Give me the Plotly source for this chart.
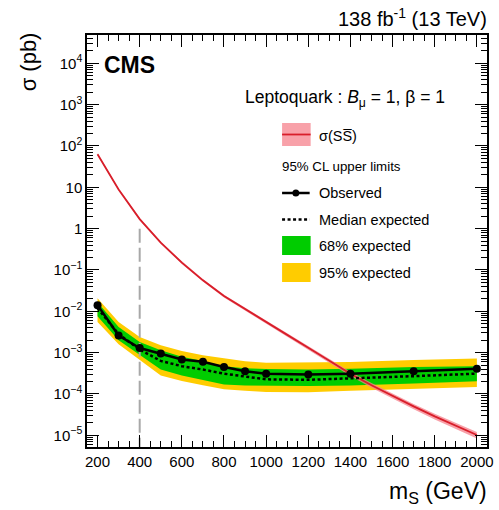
import plotly.graph_objects as go

# ---------------- data ----------------
mass_limits = [200, 300, 400, 500, 600, 700, 800, 900, 1000, 1200, 1400, 1700, 2000]
observed = [1.41e-2, 2.6e-3, 1.29e-3, 9.5e-4, 6.8e-4, 6.0e-4, 4.5e-4, 3.55e-4, 3.1e-4, 2.95e-4, 3.1e-4, 3.55e-4, 4.1e-4]
expected = [1.19e-2, 2.8e-3, 1.19e-3, 6.3e-4, 4.7e-4, 3.9e-4, 3.1e-4, 2.6e-4, 2.26e-4, 2.2e-4, 2.35e-4, 2.7e-4, 3.1e-4]
exp68_up = [1.66e-2, 4.2e-3, 1.8e-3, 1.15e-3, 8.0e-4, 6.3e-4, 4.7e-4, 4.2e-4, 4.0e-4, 3.9e-4, 4.1e-4, 4.5e-4, 4.7e-4]
exp68_dn = [7.6e-3, 2.0e-3, 8.7e-4, 3.9e-4, 2.8e-4, 2.15e-4, 1.7e-4, 1.6e-4, 1.55e-4, 1.55e-4, 1.6e-4, 1.8e-4, 2.04e-4]
exp95_up = [2.07e-2, 5.5e-3, 2.4e-3, 1.5e-3, 1.1e-3, 8.7e-4, 7.3e-4, 6.2e-4, 5.7e-4, 5.7e-4, 5.9e-4, 6.6e-4, 7.2e-4]
exp95_dn = [5.5e-3, 1.6e-3, 6.6e-4, 2.8e-4, 2.07e-4, 1.62e-4, 1.3e-4, 1.2e-4, 1.12e-4, 1.1e-4, 1.2e-4, 1.35e-4, 1.48e-4]

mass_xs = [200, 300, 400, 500, 600, 700, 800, 900, 1000, 1100, 1200, 1300, 1400, 1500, 1600, 1700, 1800, 1900, 2000]
xsec = [63.1, 8.9, 1.70, 0.457, 0.151, 0.0562, 0.0234, 0.0112, 5.5e-3, 2.69e-3, 1.32e-3, 6.3e-4, 3.09e-4,
        1.62e-4, 8.9e-5, 5.0e-5, 2.88e-5, 1.70e-5, 1.02e-5]
xsec_rel_unc = [0.05, 0.05, 0.06, 0.06, 0.07, 0.07, 0.08, 0.08, 0.09, 0.10, 0.10, 0.11, 0.12,
                0.13, 0.14, 0.15, 0.16, 0.17, 0.18]

marker_mass = 400
marker_y = [1, 10 ** -5.283]

x_range = [150, 2048]
y_range = [-5.283, 4.685]
x_ticks = list(range(200, 2001, 200))
y_tick_exps = list(range(-5, 5))
y_tick_text = {4: "10<sup>4</sup>", 3: "10<sup>3</sup>", 2: "10<sup>2</sup>", 1: "10", 0: "1",
               -1: "10<sup>\u22121</sup>", -2: "10<sup>\u22122</sup>", -3: "10<sup>\u22123</sup>",
               -4: "10<sup>\u22124</sup>", -5: "10<sup>\u22125</sup>"}

# ---------------- layout geometry (pixels) ----------------
W, H = 499, 510
L, R, T, B = 87, 6, 35, 63
PW, PH = W - L - R, H - T - B


def px(x):
    return (x - L) / PW


def py(y):
    return (H - B - y) / PH


FONT = "Liberation Sans, Arial, Helvetica, sans-serif"
GREEN = "#00cc00"
YELLOW = "#ffcc00"
RED = "#d81e2a"
PINK = "rgba(245,130,140,0.75)"

fig = go.Figure()

# 95% band
fig.add_trace(go.Scatter(x=mass_limits + mass_limits[::-1], y=exp95_up + exp95_dn[::-1],
                         fill="toself", fillcolor=YELLOW, line=dict(width=0), mode="lines",
                         hoverinfo="skip", showlegend=False))
# 68% band
fig.add_trace(go.Scatter(x=mass_limits + mass_limits[::-1], y=exp68_up + exp68_dn[::-1],
                         fill="toself", fillcolor=GREEN, line=dict(width=0), mode="lines",
                         hoverinfo="skip", showlegend=False))
# vertical dashed line
fig.add_trace(go.Scatter(x=[marker_mass, marker_mass], y=marker_y, mode="lines",
                         line=dict(color="#a8a8a8", width=2, dash="14px,5px"),
                         hoverinfo="skip", showlegend=False))
# cross-section band + line
xs_up = [v * (1 + u) for v, u in zip(xsec, xsec_rel_unc)]
xs_dn = [v * (1 - u) for v, u in zip(xsec, xsec_rel_unc)]
fig.add_trace(go.Scatter(x=mass_xs + mass_xs[::-1], y=xs_up + xs_dn[::-1], fill="toself",
                         fillcolor=PINK, line=dict(width=0), mode="lines",
                         hoverinfo="skip", showlegend=False))
fig.add_trace(go.Scatter(x=mass_xs, y=xsec, mode="lines", line=dict(color=RED, width=1.8),
                         showlegend=False))
# median expected
fig.add_trace(go.Scatter(x=mass_limits, y=expected, mode="lines",
                         line=dict(color="black", width=2.5, dash="3px,2.5px"), showlegend=False))
# observed
fig.add_trace(go.Scatter(x=mass_limits, y=observed, mode="lines+markers",
                         line=dict(color="black", width=2.5),
                         marker=dict(color="black", size=8), showlegend=False))

# ---------------- legend (manual) ----------------
shapes = []
annotations = []
lx0, lx1 = 285, 314
# sigma
shapes.append(dict(type="rect", xref="paper", yref="paper", x0=px(lx0), x1=px(lx1), y0=py(146), y1=py(123),
                   fillcolor=PINK, line=dict(width=0)))
shapes.append(dict(type="line", xref="paper", yref="paper", x0=px(lx0), x1=px(lx1), y0=py(134.5), y1=py(134.5),
                   line=dict(color=RED, width=1.8)))
# observed
shapes.append(dict(type="line", xref="paper", yref="paper", x0=px(lx0), x1=px(313), y0=py(193), y1=py(193),
                   line=dict(color="black", width=2.5)))
shapes.append(dict(type="circle", xref="paper", yref="paper", x0=px(295.5), x1=px(302.5), y0=py(196.5), y1=py(189.5),
                   fillcolor="black", line=dict(color="black", width=0)))
# median
shapes.append(dict(type="line", xref="paper", yref="paper", x0=px(lx0), x1=px(313), y0=py(219.5), y1=py(219.5),
                   line=dict(color="black", width=2.5, dash="3px,2.5px")))
# 68
shapes.append(dict(type="rect", xref="paper", yref="paper", x0=px(lx0), x1=px(lx1), y0=py(255), y1=py(236),
                   fillcolor=GREEN, line=dict(width=0)))
# 95
shapes.append(dict(type="rect", xref="paper", yref="paper", x0=px(lx0), x1=px(lx1), y0=py(282), y1=py(263),
                   fillcolor=YELLOW, line=dict(width=0)))


def text(x, y, s, size, xanchor="left", yanchor="middle"):
    annotations.append(dict(x=px(x), y=py(y), xref="paper", yref="paper", text=s, showarrow=False,
                            xanchor=xanchor, yanchor=yanchor,
                            font=dict(family=FONT, size=size, color="black")))


text(320, 136, "\u03c3(SS\u0305)", 14.5)
text(283, 166, "95% CL upper limits", 13.3)
text(320, 193, "Observed", 14.5)
text(320, 219.5, "Median expected", 14.5)
text(320, 246, "68% expected", 14.5)
text(320, 273, "95% expected", 14.5)
text(245, 98, "Leptoquark : <i>B</i><sub>\u03bc</sub> = 1, \u03b2 = 1", 17.5)
text(102, 65, "<b>CMS</b>", 23)
text(495, 17, "138 fb<sup>-1</sup> (13 TeV)", 20, xanchor="right")
text(495, 492, "m<sub>S</sub> (GeV)", 23, xanchor="right")
annotations.append(dict(x=px(28), y=py(30), xref="paper", yref="paper", text="\u03c3 (pb)", showarrow=False,
                        xanchor="center", yanchor="top", textangle=-90,
                        font=dict(family=FONT, size=22, color="black")))

# minor y ticks
y_minor = []
for e in range(-6, 5):
    for d in range(2, 10):
        v = d * 10 ** e
        if 10 ** y_range[0] <= v <= 10 ** y_range[1]:
            y_minor.append(v)

fig.update_layout(
    width=W, height=H, margin=dict(l=L, r=R, t=T, b=B),
    paper_bgcolor="white", plot_bgcolor="white",
    shapes=shapes, annotations=annotations, showlegend=False,
    font=dict(family=FONT, color="black"),
)
fig.update_xaxes(range=x_range, tickmode="array", tickvals=x_ticks, ticks="inside", ticklen=12,
                 tickwidth=1, tickcolor="black", showline=True, linecolor="black", linewidth=1.5,
                 mirror="allticks", showgrid=False, zeroline=False,
                 tickfont=dict(family=FONT, size=15),
                 minor=dict(tickmode="linear", tick0=0, dtick=50, ticks="inside", ticklen=6,
                            tickcolor="black", tickwidth=1, showgrid=False))
fig.update_yaxes(type="log", range=y_range, tickmode="array",
                 tickvals=[10 ** e for e in y_tick_exps], ticktext=[y_tick_text[e] for e in y_tick_exps],
                 ticks="inside", ticklen=12, tickwidth=1, tickcolor="black",
                 showline=True, linecolor="black", linewidth=1.5, mirror="allticks",
                 showgrid=False, zeroline=False, tickfont=dict(family=FONT, size=15),
                 minor=dict(tickmode="array", tickvals=y_minor, ticks="inside", ticklen=6,
                            tickcolor="black", tickwidth=1, showgrid=False))

fig.write_html("out.html")
